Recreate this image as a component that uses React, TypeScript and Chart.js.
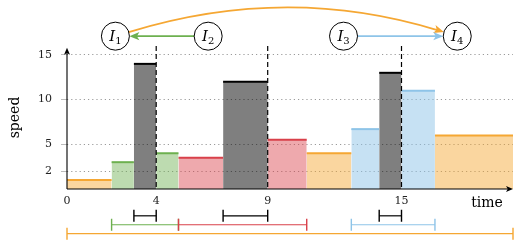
import React, { useEffect, useRef } from "react";
import { Chart, registerables } from "chart.js";
Chart.register(...registerables);

// ---- data ----
const segStart = [0, 2, 3, 4, 5, 7, 9, 10.75, 12.75, 14, 15, 16.5];
const segEnd = [2, 3, 4, 5, 7, 9, 10.75, 12.75, 14, 15, 16.5, 20];
const speeds = [1, 3, 14, 4, 3.5, 12, 5.5, 4, 6.7, 13, 11, 6];
const segKind = ["o", "g", "k", "g", "r", "k", "r", "o", "b", "k", "b", "o"];

const xTicks = [0, 4, 9, 15];
const yTicks = [2, 5, 10, 15];
const dashedAt = [4, 9, 15];

const rangeStart = [3, 7, 14, 2, 5, 12.75, 0];
const rangeEnd = [4, 9, 15, 5, 10.75, 16.5, 20];
const rangeLevel = [-3, -3, -3, -4, -4, -4, -5];
const rangeKind = ["k", "k", "k", "g", "r", "b", "o"];

const nodeSub = ["1", "2", "3", "4"];
const nodeX = [2.17, 6.33, 12.4, 17.5];
const nodeY = 17.1;
const arcCtrlY = 23;

// ---- styles ----
const STROKE: Record<string, string> = {
  o: "#F5A733",
  g: "#6DB04F",
  r: "#D9404A",
  b: "#8EC4E8",
  k: "#000000",
};
const FILL: Record<string, string> = {
  o: "rgba(245,167,51,0.47)",
  g: "rgba(109,176,79,0.45)",
  r: "rgba(217,64,74,0.45)",
  b: "rgba(142,196,232,0.5)",
  k: "rgba(0,0,0,0.5)",
};
const SERIF = "'DejaVu Serif', serif";

function arrowHead(ctx: CanvasRenderingContext2D, tx: number, ty: number, ang: number, color: string, len = 10, hw = 4.2) {
  ctx.save();
  ctx.translate(tx, ty);
  ctx.rotate(ang);
  ctx.fillStyle = color;
  ctx.beginPath();
  ctx.moveTo(0, 0);
  ctx.lineTo(-len, -hw);
  ctx.lineTo(-len * 0.75, 0);
  ctx.lineTo(-len, hw);
  ctx.closePath();
  ctx.fill();
  ctx.restore();
}

const decor = {
  id: "decor",
  afterDatasetsDraw(chart: any) {
    const ctx: CanvasRenderingContext2D = chart.ctx;
    const xs = chart.scales.x;
    const ys = chart.scales.y;
    const ca = chart.chartArea;
    ctx.save();
    // dashed verticals
    ctx.strokeStyle = "#000";
    ctx.lineWidth = 1.2;
    ctx.setLineDash([5, 3]);
    dashedAt.forEach((v) => {
      const px = xs.getPixelForValue(v);
      ctx.beginPath();
      ctx.moveTo(px, ca.top);
      ctx.lineTo(px, ca.bottom);
      ctx.stroke();
    });
    ctx.setLineDash([]);

    // axes with arrows
    const x0 = xs.getPixelForValue(0);
    const y0 = ys.getPixelForValue(0);
    ctx.lineWidth = 1.1;
    ctx.strokeStyle = "#000";
    const yTop = ys.getPixelForValue(15.8);
    const xEnd = xs.getPixelForValue(20);
    ctx.beginPath();
    ctx.moveTo(x0, y0);
    ctx.lineTo(x0, yTop + 4);
    ctx.moveTo(x0, y0);
    ctx.lineTo(xEnd - 4, y0);
    ctx.stroke();
    arrowHead(ctx, x0, yTop, -Math.PI / 2, "#000", 7, 3);
    arrowHead(ctx, xEnd, y0, 0, "#000", 7, 3);

    // axis title "time"
    ctx.fillStyle = "#000";
    ctx.font = `14px ${SERIF}`;
    ctx.textAlign = "center";
    ctx.textBaseline = "alphabetic";
    ctx.fillText("time", xEnd - 26, y0 + 18);

    // ranges below axis
    for (let i = 0; i < rangeStart.length; i++) {
      const a = xs.getPixelForValue(rangeStart[i]);
      const b = xs.getPixelForValue(rangeEnd[i]);
      const py = ys.getPixelForValue(rangeLevel[i]);
      ctx.strokeStyle = STROKE[rangeKind[i]];
      ctx.lineWidth = 1.2;
      ctx.beginPath();
      ctx.moveTo(a, py);
      ctx.lineTo(b, py);
      ctx.stroke();
      ctx.lineWidth = 1.4;
      ctx.beginPath();
      ctx.moveTo(a, py - 6);
      ctx.lineTo(a, py + 6);
      ctx.moveTo(b, py - 6);
      ctx.lineTo(b, py + 6);
      ctx.stroke();
    }

    // nodes
    const R = 14;
    const cx = nodeX.map((v) => xs.getPixelForValue(v));
    const cy = ys.getPixelForValue(nodeY);

    // orange arc from I1 to I4
    const ctrlX = xs.getPixelForValue((nodeX[0] + nodeX[3]) / 2);
    const ctrlY = ys.getPixelForValue(arcCtrlY);
    const d1 = Math.atan2(ctrlY - cy, ctrlX - cx[0]);
    const d4 = Math.atan2(ctrlY - cy, ctrlX - cx[3]);
    const sx = cx[0] + R * Math.cos(d1);
    const sy = cy + R * Math.sin(d1);
    const ex = cx[3] + R * Math.cos(d4);
    const ey = cy + R * Math.sin(d4);
    const endAng = Math.atan2(ey - ctrlY, ex - ctrlX);
    ctx.strokeStyle = STROKE.o;
    ctx.lineWidth = 1.8;
    ctx.beginPath();
    ctx.moveTo(sx, sy);
    ctx.quadraticCurveTo(ctrlX, ctrlY, ex - 6 * Math.cos(endAng), ey - 6 * Math.sin(endAng));
    ctx.stroke();
    arrowHead(ctx, ex, ey, endAng, STROKE.o);

    // green arrow I2 -> I1
    ctx.strokeStyle = STROKE.g;
    ctx.lineWidth = 1.8;
    ctx.beginPath();
    ctx.moveTo(cx[1] - R, cy);
    ctx.lineTo(cx[0] + R + 6, cy);
    ctx.stroke();
    arrowHead(ctx, cx[0] + R, cy, Math.PI, STROKE.g);

    // blue arrow I3 -> I4
    ctx.strokeStyle = STROKE.b;
    ctx.beginPath();
    ctx.moveTo(cx[2] + R, cy);
    ctx.lineTo(cx[3] - R - 6, cy);
    ctx.stroke();
    arrowHead(ctx, cx[3] - R, cy, 0, STROKE.b);

    // circles + labels
    for (let i = 0; i < nodeSub.length; i++) {
      ctx.fillStyle = "#fff";
      ctx.strokeStyle = "#000";
      ctx.lineWidth = 1;
      ctx.beginPath();
      ctx.arc(cx[i], cy, R, 0, Math.PI * 2);
      ctx.fill();
      ctx.stroke();
      ctx.fillStyle = "#000";
      ctx.textAlign = "left";
      ctx.textBaseline = "alphabetic";
      ctx.font = `italic 15px ${SERIF}`;
      const wI = ctx.measureText("I").width;
      ctx.font = `10px ${SERIF}`;
      const wS = ctx.measureText(nodeSub[i]).width;
      const start = cx[i] - (wI + wS) / 2;
      ctx.font = `italic 15px ${SERIF}`;
      ctx.fillText("I", start, cy + 5);
      ctx.font = `10px ${SERIF}`;
      ctx.fillText(nodeSub[i], start + wI, cy + 8);
    }
    ctx.restore();
  },
};

export default function App() {
  const ref = useRef<HTMLCanvasElement | null>(null);
  useEffect(() => {
    if (!ref.current) return;
    const datasets = segStart.map((s, i) => ({
      data: [
        { x: s, y: speeds[i] },
        { x: segEnd[i], y: speeds[i] },
      ],
      borderColor: STROKE[segKind[i]],
      backgroundColor: FILL[segKind[i]],
      borderWidth: 2,
      fill: "origin",
      pointRadius: 0,
      tension: 0,
    }));
    const chart = new Chart(ref.current, {
      type: "line",
      data: { datasets },
      options: {
        animation: false,
        responsive: true,
        maintainAspectRatio: false,
        layout: { padding: { top: 46, right: 1, left: 0, bottom: 0 } },
        plugins: { legend: { display: false }, tooltip: { enabled: false } },
        scales: {
          x: {
            type: "linear",
            min: 0,
            max: 20,
            afterBuildTicks: (s: any) => {
              s.ticks = xTicks.map((v) => ({ value: v }));
            },
            afterFit: (s: any) => {
              s.height = 55;
            },
            grid: { display: false, drawTicks: false },
            border: { display: false },
            ticks: {
              padding: 6,
              autoSkip: false,
              maxRotation: 0,
              color: "#222",
              font: { family: SERIF, size: 11 },
            },
          },
          y: {
            type: "linear",
            min: 0,
            max: 16,
            afterBuildTicks: (s: any) => {
              s.ticks = yTicks.map((v) => ({ value: v }));
            },
            afterFit: (s: any) => {
              s.width = 67;
            },
            grid: {
              color: "#9a9a9a",
              lineWidth: 1,
              tickLength: 6,
              tickColor: "#bbb",
              tickBorderDash: [],
            },
            border: { display: false, dash: [1.2, 3] },
            ticks: {
              padding: 9,
              color: "#222",
              font: { family: SERIF, size: 11 },
            },
            title: {
              display: true,
              text: "speed",
              color: "#000",
              font: { family: SERIF, size: 14 },
              padding: { top: 7, bottom: 0 },
            },
          },
        },
      },
      plugins: [decor],
    } as any);
    return () => chart.destroy();
  }, []);
  return (
    <div style={{ position: "fixed", left: 0, top: 0, width: 514, height: 244 }}>
      <canvas ref={ref} />
    </div>
  );
}
